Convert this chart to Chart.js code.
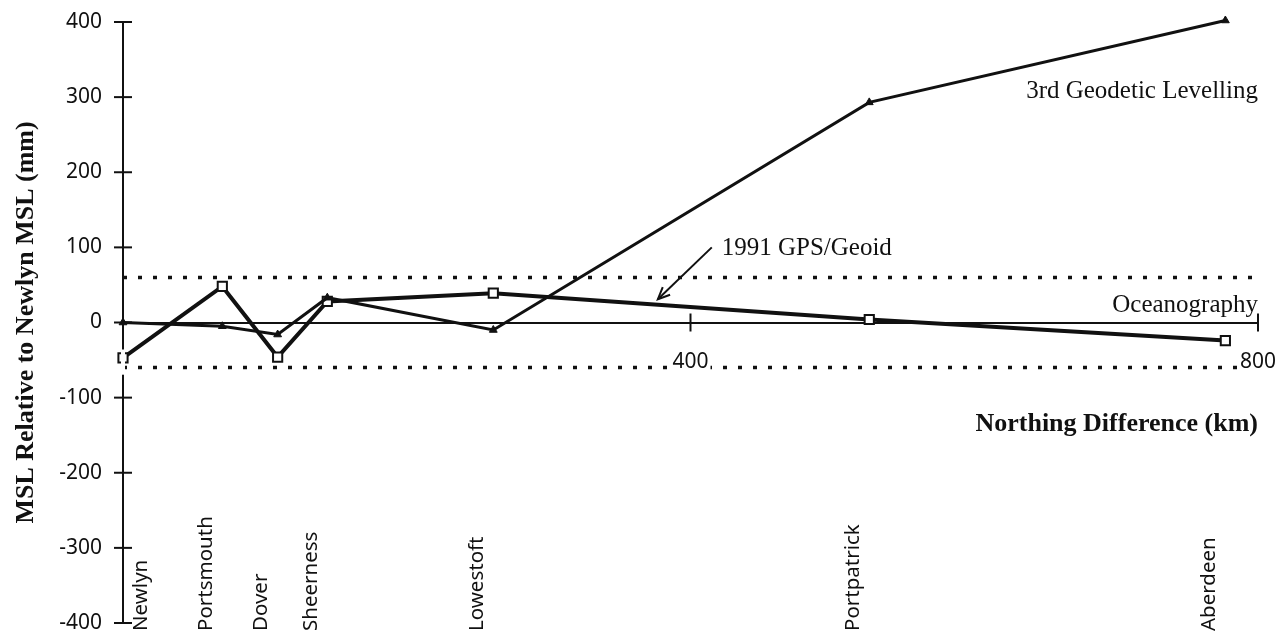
<!DOCTYPE html>
<html>
<head>
<meta charset="utf-8">
<script src="https://cdn.jsdelivr.net/npm/chart.js@4.4.1/dist/chart.umd.min.js"></script>
<style>
  html, body { margin: 0; padding: 0; background: #fff; }
  #wrap { width: 1281px; height: 641px; }
</style>
</head>
<body>
<div id="wrap"><canvas id="c" width="1281" height="641"></canvas></div>
<script>
// Tide-gauge stations along the coast and their northing from Newlyn (km)
const stations   = ['Newlyn', 'Portsmouth', 'Dover', 'Sheerness', 'Lowestoft', 'Portpatrick', 'Aberdeen'];
const northingKm = [0, 70, 109, 144, 261, 526, 777];

// MSL relative to Newlyn MSL (mm)
const levellingMm = [0, -5, -16, 33, -10, 293, 402];   // 3rd Geodetic Levelling
const gpsGeoidMm  = [-47, 48, -46, 28, 39, 4, -24];    // 1991 GPS/Geoid

// Oceanographic tolerance band (mm)
const bandUpperMm = 60;
const bandLowerMm = -60;

// Axis ranges and ticks
const yMinMm = -400, yMaxMm = 400, yStepMm = 100;
const xMinKm = 0, xMaxKm = 800, xStepKm = 400;

// Text annotations placed in data units (km, mm)
const notes = [
  { text: '3rd Geodetic Levelling', x: 800, y: 299, align: 'right', bold: false },
  { text: '1991 GPS/Geoid',         x: 422, y: 90,  align: 'left',  bold: false },
  { text: 'Oceanography',           x: 800, y: 14,  align: 'right', bold: false },
  { text: 'Northing Difference (km)', x: 800, y: -145, align: 'right', bold: true }
];
// Pointer from the GPS/Geoid label to its curve (km, mm)
const pointerFrom = { x: 415, y: 100 };
const pointerTo   = { x: 377, y: 31 };

const INK = '#111';
const SERIF = '"Liberation Serif", "Times New Roman", serif';
const SANS = '"Noto Sans", "Open Sans", sans-serif';

const toPoints = (xs, ys) => xs.map((x, i) => ({ x, y: ys[i] }));

// Ticks that cross the axis lines, station names, notes and the pointer arrow
const decorations = {
  id: 'decorations',
  afterDatasetsDraw(chart) {
    const { ctx, chartArea, scales: { x, y } } = chart;
    const y0 = y.getPixelForValue(0);
    ctx.save();
    ctx.strokeStyle = INK;
    ctx.fillStyle = INK;
    ctx.lineWidth = 2;

    // crossing tick marks on the vertical axis
    y.ticks.forEach(t => {
      const py = y.getPixelForValue(t.value);
      ctx.beginPath();
      ctx.moveTo(chartArea.left - 9, py);
      ctx.lineTo(chartArea.left + 9, py);
      ctx.stroke();
    });
    // crossing tick marks on the horizontal axis (skip the origin)
    x.ticks.forEach(t => {
      if (t.value === xMinKm) return;
      const px = x.getPixelForValue(t.value);
      ctx.beginPath();
      ctx.moveTo(px, y0 - 9);
      ctx.lineTo(px, y0 + 9);
      ctx.stroke();
    });

    // station names, written upward from the bottom edge
    ctx.font = '20.5px ' + SANS;
    ctx.textAlign = 'left';
    ctx.textBaseline = 'middle';
    stations.forEach((name, i) => {
      const px = x.getPixelForValue(northingKm[i]);
      const lx = Math.max(px - 16, chartArea.left + 18);
      ctx.save();
      ctx.translate(lx, chartArea.bottom + 8);
      ctx.rotate(-Math.PI / 2);
      ctx.fillText(name, 0, 0);
      ctx.restore();
    });

    // notes
    ctx.textBaseline = 'alphabetic';
    notes.forEach(n => {
      ctx.font = (n.bold ? 'bold 26px ' : '25px ') + SERIF;
      ctx.textAlign = n.align;
      ctx.fillText(n.text, x.getPixelForValue(n.x), y.getPixelForValue(n.y));
    });

    // pointer arrow
    const ax = x.getPixelForValue(pointerFrom.x), ay = y.getPixelForValue(pointerFrom.y);
    const bx = x.getPixelForValue(pointerTo.x),   by = y.getPixelForValue(pointerTo.y);
    const ang = Math.atan2(by - ay, bx - ax);
    ctx.lineWidth = 2;
    ctx.beginPath();
    ctx.moveTo(ax, ay);
    ctx.lineTo(bx, by);
    ctx.stroke();
    const head = 13, spread = 0.42;
    ctx.beginPath();
    ctx.moveTo(bx - head * Math.cos(ang - spread), by - head * Math.sin(ang - spread));
    ctx.lineTo(bx, by);
    ctx.lineTo(bx - head * Math.cos(ang + spread), by - head * Math.sin(ang + spread));
    ctx.stroke();

    ctx.restore();
  }
};

new Chart(document.getElementById('c'), {
  type: 'line',
  data: {
    datasets: [
      {
        label: 'Oceanography upper',
        data: [{ x: xMinKm, y: bandUpperMm }, { x: xMaxKm, y: bandUpperMm }],
        borderColor: INK, borderWidth: 3.5, borderDash: [4, 11],
        pointRadius: 0, fill: false
      },
      {
        label: 'Oceanography lower',
        data: [{ x: xMinKm, y: bandLowerMm }, { x: xMaxKm, y: bandLowerMm }],
        borderColor: INK, borderWidth: 3.5, borderDash: [4, 11],
        pointRadius: 0, fill: false
      },
      {
        label: '3rd Geodetic Levelling',
        data: toPoints(northingKm, levellingMm),
        borderColor: INK, borderWidth: 3,
        pointStyle: 'triangle', pointRadius: 4.5,
        pointBackgroundColor: INK, pointBorderColor: INK, pointBorderWidth: 1,
        fill: false, tension: 0, clip: false
      },
      {
        label: '1991 GPS/Geoid',
        data: toPoints(northingKm, gpsGeoidMm),
        borderColor: INK, borderWidth: 4,
        pointStyle: 'rect', pointRadius: 6.5,
        pointBackgroundColor: '#fff', pointBorderColor: INK, pointBorderWidth: 2,
        fill: false, tension: 0, clip: false
      }
    ]
  },
  options: {
    responsive: false,
    devicePixelRatio: 1,
    animation: false,
    events: [],
    layout: { padding: { top: 22, right: 23, bottom: 18, left: 0 } },
    plugins: { legend: { display: false }, tooltip: { enabled: false } },
    scales: {
      x: {
        type: 'linear',
        min: xMinKm, max: xMaxKm,
        position: { y: 0 },
        border: { display: true, color: INK, width: 2 },
        grid: { display: false, drawTicks: false },
        ticks: {
          stepSize: xStepKm,
          maxRotation: 0,
          autoSkip: false,
          padding: 27,
          z: 1,
          color: INK,
          font: { family: SANS, size: 21 },
          showLabelBackdrop: true,
          backdropColor: '#fff',
          backdropPadding: { x: 2, y: 0 },
          callback: v => (v === xMinKm ? '' : String(v))
        },
        afterFit(scale) { scale.paddingLeft = 0; scale.paddingRight = 0; }
      },
      y: {
        type: 'linear',
        position: 'left',
        min: yMinMm, max: yMaxMm,
        border: { display: true, color: INK, width: 2 },
        grid: { display: false, drawTicks: false },
        ticks: {
          stepSize: yStepMm,
          padding: 21,
          color: INK,
          font: { family: SANS, size: 21 }
        },
        title: {
          display: true,
          text: 'MSL Relative to Newlyn MSL (mm)',
          color: INK,
          font: { family: SERIF, size: 26, weight: 'bold' },
          padding: { top: 11, bottom: 0 }
        },
        afterFit(scale) {
          scale.width = 123;
          scale.paddingTop = 0;
          scale.paddingBottom = 0;
        }
      }
    }
  },
  plugins: [decorations]
});
</script>
</body>
</html>
